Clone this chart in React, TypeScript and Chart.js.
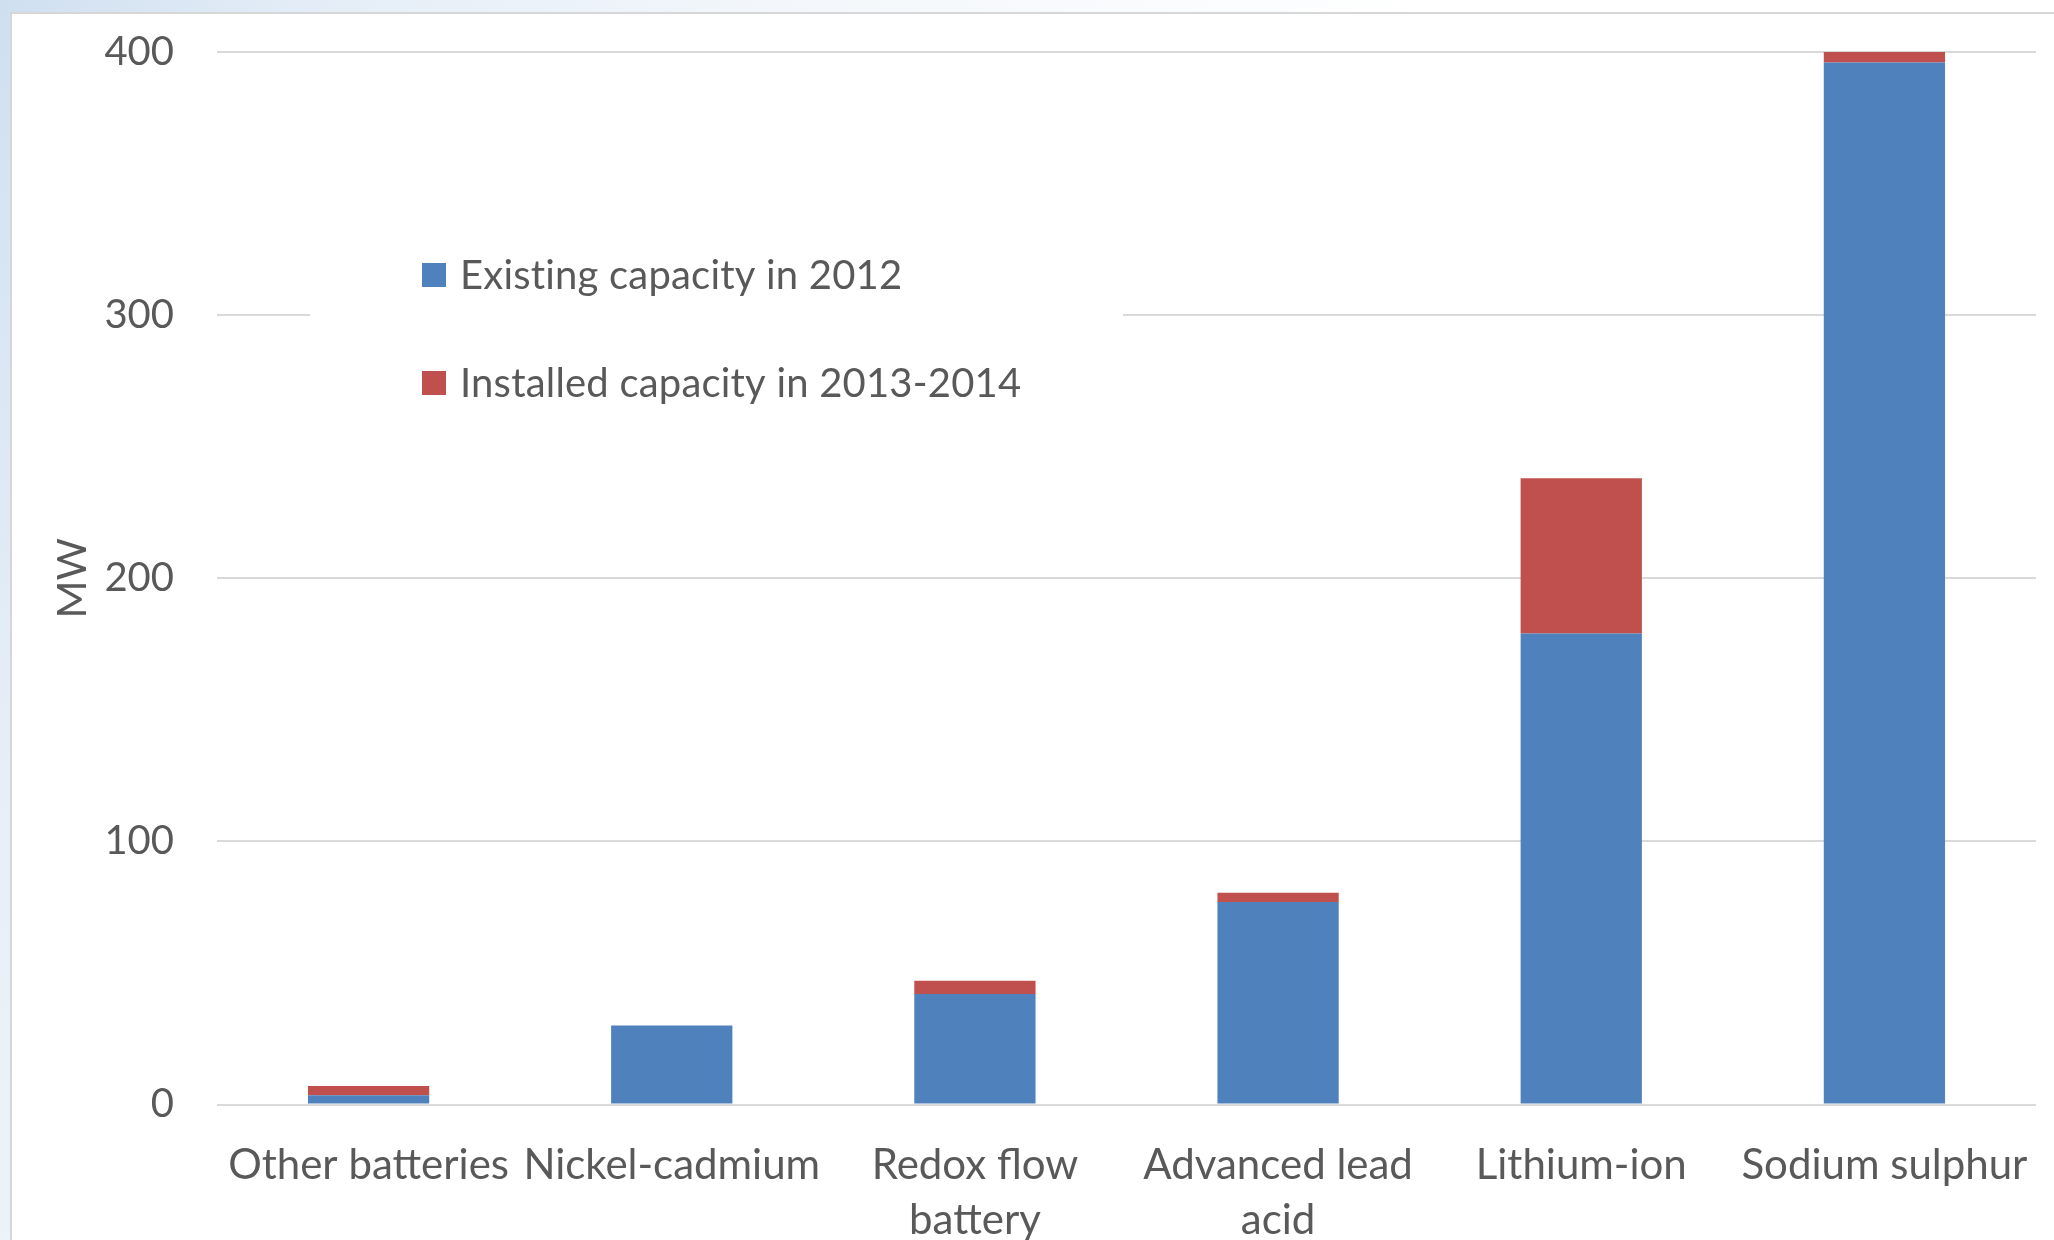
import React, { useEffect, useRef } from 'react';
import { Chart, registerables } from 'chart.js';

Chart.register(...registerables);

// Battery technologies on the category axis (multi-line labels as arrays)
const categories: (string | string[])[] = [
  'Other batteries',
  'Nickel-cadmium',
  ['Redox flow', 'battery'],
  ['Advanced lead', 'acid'],
  'Lithium-ion',
  'Sodium sulphur',
];

// Capacity in MW
const existing2012 = [3.5, 30, 42, 77, 179, 396];
const installed2013to2014 = [3.5, 0, 5, 3.5, 59, 4];

const seriesNames = ['Existing capacity in 2012', 'Installed capacity in 2013-2014'];
const seriesColors = ['#4F81BD', '#C0504D'];

const yMin = 0;
const yMax = 400;
const yStep = 100;

const TEXT = '#595959';
const FONT = 'Lato';

// Legend drawn inside the plot area on a white box that interrupts the gridlines
const insetLegend = {
  id: 'insetLegend',
  beforeDatasetsDraw(chart: any) {
    const { ctx, chartArea } = chart;
    const left = chartArea.left;
    const top = chartArea.top;
    ctx.save();
    ctx.fillStyle = '#ffffff';
    ctx.fillRect(left + 93, top + 165, 813, 225);
    const rowY = [top + 223, top + 331];
    ctx.font = `40px ${FONT}`;
    (ctx as any).letterSpacing = '0.2px';
    ctx.textBaseline = 'middle';
    ctx.textAlign = 'left';
    chart.data.datasets.forEach((ds: any, i: number) => {
      ctx.fillStyle = ds.backgroundColor;
      ctx.fillRect(left + 205, rowY[i] - 12, 24, 24);
      ctx.fillStyle = TEXT;
      ctx.fillText(ds.label, left + 243, rowY[i] + 1);
    });
    ctx.restore();
  },
};

function BatteryChart() {
  const canvasRef = useRef<HTMLCanvasElement | null>(null);

  useEffect(() => {
    document.body.style.margin = '0';
    document.body.style.overflow = 'hidden';
    const canvas = canvasRef.current;
    if (!canvas) return;
    const chart = new Chart(canvas, {
      type: 'bar',
      data: {
        labels: categories as any,
        datasets: [
          {
            label: seriesNames[0],
            data: existing2012,
            backgroundColor: seriesColors[0],
            barPercentage: 0.4,
            categoryPercentage: 1.0,
          },
          {
            label: seriesNames[1],
            data: installed2013to2014,
            backgroundColor: seriesColors[1],
            barPercentage: 0.4,
            categoryPercentage: 1.0,
          },
        ],
      },
      options: {
        responsive: false,
        animation: false,
        layout: { padding: { top: 52, right: 18, bottom: 0, left: 0 } },
        plugins: {
          legend: { display: false },
          tooltip: { enabled: false },
        },
        scales: {
          x: {
            stacked: true,
            grid: { display: false },
            border: { display: false },
            ticks: {
              color: TEXT,
              font: { family: FONT, size: 42, lineHeight: 1.32 },
              padding: 25,
              maxRotation: 0,
              autoSkip: false,
            },
            afterFit: (scale: any) => {
              scale.height = 135.5;
            },
          },
          y: {
            stacked: true,
            min: yMin,
            max: yMax,
            grid: { color: '#d9d9d9', lineWidth: 2, drawTicks: false },
            border: { display: false },
            ticks: {
              stepSize: yStep,
              color: TEXT,
              font: { family: FONT, size: 40 },
              padding: 43,
            },
            title: {
              display: true,
              text: 'MW',
              color: TEXT,
              font: { family: FONT, size: 41 },
              padding: { top: 48, bottom: 0 },
            },
            afterFit: (scale: any) => {
              scale.width = 217;
              scale.paddingTop = 0;
              scale.paddingBottom = 0;
            },
          },
        },
      },
      plugins: [insetLegend],
    });
    return () => chart.destroy();
  }, []);

  return (
    <canvas
      ref={canvasRef}
      width={2054}
      height={1240}
      style={{ position: 'absolute', left: 0, top: 0, display: 'block' }}
    />
  );
}

export default function App() {
  return (
    <div
      style={{
        position: 'relative',
        width: 2054,
        height: 1240,
        overflow: 'hidden',
        background:
          'linear-gradient(115deg, #cfdff0 0%, #e4edf7 12%, #f3f7fb 30%, #ffffff 55%)',
      }}
    >
      <div
        style={{
          position: 'absolute',
          left: 10,
          top: 12,
          right: -4,
          bottom: -4,
          background: '#ffffff',
          borderLeft: '2px solid #d6d6d6',
          borderTop: '2px solid #d6d6d6',
        }}
      />
      <BatteryChart />
    </div>
  );
}
